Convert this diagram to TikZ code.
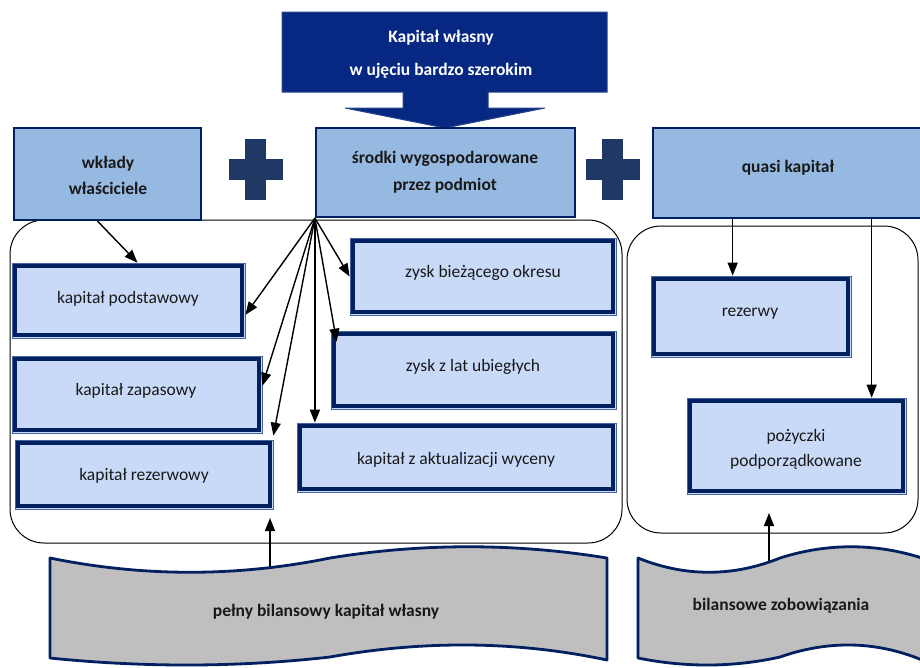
\documentclass[tikz,border=0pt]{standalone}
\usepackage{fontspec}
\setmainfont{Carlito}
\usetikzlibrary{arrows.meta,fit,calc}
\definecolor{navy}{RGB}{0,32,96}
\definecolor{topnavy}{RGB}{6,40,130}
\definecolor{topedge}{RGB}{40,70,140}
\definecolor{bigblue}{RGB}{150,185,226}
\definecolor{inblue}{RGB}{201,218,248}
\definecolor{framec}{RGB}{70,100,160}
\definecolor{plusc}{RGB}{31,56,100}
\definecolor{bannerg}{RGB}{191,191,191}
\definecolor{txtc}{RGB}{25,25,25}
\begin{document}
\begin{tikzpicture}[x=1pt,y=-1pt,
  txt/.style={font=\fontsize{17.5}{25}\selectfont, text=txtc, align=center, inner sep=0pt},
  btxt/.style={font=\fontsize{17.5}{26}\selectfont\bfseries, text=txtc, align=center, inner sep=0pt},
  bigbox/.style={draw=navy, line width=2.2pt, fill=bigblue, inner sep=0pt},
  inbox/.style={draw=framec, line width=0.7pt, fill=inblue, inner sep=0pt},
  inframe/.style={draw=navy, line width=3.5pt},
  conn/.style={line width=1.4pt, -{Triangle[length=13pt,width=10pt]}},
  container/.style={draw=black, line width=1pt, rounded corners=34pt},
  banner/.style={draw=navy, line width=2.8pt, fill=bannerg, line join=round},
  plussign/.style={fill=plusc},
  topshape/.style={fill=topnavy, draw=topedge, line width=1pt},
  toptxt/.style={font=\fontsize{17.5}{26}\selectfont\bfseries, text=white, inner sep=0pt}
]
\clip (0,0) rectangle (920,667);
\fill[white] (0,0) rectangle (920,667);

% containers
\draw[container] (10,220) rectangle (622,543);
\draw[container] (627,226) rectangle (918,533);

% top arrow
\path[topshape] (282,12) -- (607,12) -- (607,92) -- (488,92) -- (488,108) -- (545,108)
  -- (445,128) -- (345,108) -- (403,108) -- (403,92) -- (282,92) -- cycle;
\node[toptxt] (title1) at (441,38) {Kapitał własny};
\node[toptxt] (title2) at (441,71) {w ujęciu bardzo szerokim};

% top boxes
\node[bigbox, fit={(14,128) (201,220)}] (wk) {};
\node[btxt] (wkl) at (108,175) {wkłady\\właściciele};
\node[bigbox, fit={(316,128) (575,217)}] (src) {};
\node[btxt, font=\fontsize{17.5}{27}\selectfont\bfseries] (srcl) at (445,172) {środki wygospodarowane\\przez podmiot};
\node[bigbox, fit={(653,128) (922,218)}] (qk) {};
\node[btxt] (qkl) at (788,168) {quasi kapitał};

% plus signs
\fill[plussign] (229,159) rectangle (283,180);
\fill[plussign] (245,139) rectangle (266,200);
\fill[plussign] (586,159) rectangle (640,180);
\fill[plussign] (602,139) rectangle (623,200);

% inner boxes
\node[inbox, fit={(12,263) (245,338)}] (pod) {};
\node[inbox, fit={(12,356) (262,433)}] (zap) {};
\node[inbox, fit={(15,440) (273,509)}] (rez) {};
\node[inbox, fit={(350,238) (616,315)}] (biez) {};
\node[inbox, fit={(331,331) (616,409)}] (lat) {};
\node[inbox, fit={(297,423) (616,492)}] (akt) {};
\node[inbox, fit={(651,276) (851,357)}] (rzw) {};
\node[inbox, fit={(687,398) (906,494)}] (poz) {};
\foreach \n in {pod,zap,rez,biez,lat,akt,rzw,poz}
  \draw[inframe] ([shift={(3.5,3.5)}]\n.north west) rectangle ([shift={(-3.5,-3.5)}]\n.south east);
\node[txt] (podl) at (128,299) {kapitał podstawowy};
\node[txt] (zapl) at (136,391) {kapitał zapasowy};
\node[txt] (rezl) at (144,476) {kapitał rezerwowy};
\node[txt] (biezl) at (483,273) {zysk bieżącego okresu};
\node[txt] (latl) at (473,367) {zysk z lat ubiegłych};
\node[txt] (aktl) at (456,460) {kapitał z aktualizacji wyceny};
\node[txt] (rzwl) at (750,314) {rezerwy};
\node[txt] (pozl) at (796,449) {pożyczki\\podporządkowane};

% connectors
\draw[conn] ($(wk.south)+(-10,0)$) -- ($(pod.north)+(9,0)$);
\draw[conn] (src.south west) -- (pod.-7);
\draw[conn] (src.south west) -- (zap.4);
\draw[conn] (src.south west) -- ($(rez.north east)+(0,-4)$);
\draw[conn] (src.south west) -- (src.south west |- akt.north);
\draw[conn] (src.south west) -- ($(lat.north west)+(6,11)$);
\draw[conn] (src.south west) -- (biez.west);

\coordinate (q1) at ($(rzw.north west)+(82,0)$);
\coordinate (q2) at ($(poz.north west)+(185,0)$);
\draw[conn] (qk.south -| q1) -- (q1);
\draw[conn] (qk.south -| q2) -- (q2);

\coordinate (b1top) at (270,573);
\coordinate (b1tip) at (270,518);
\coordinate (b2top) at (769,568);
\coordinate (b2tip) at (769,513);
\draw[conn] (b1top) -- (b1tip);
\draw[conn] (b2top) -- (b2tip);

% banners
\path[banner] (50,558) .. controls (143,577) and (237,577) .. (330,558)
  .. controls (422,543) and (515,543) .. (607,558) -- (607,660)
  .. controls (515,640.5) and (422,640.5) .. (330,657)
  .. controls (237,667.5) and (143,667.5) .. (50,658) -- cycle;
\path[banner] (638,558) .. controls (685,577) and (733,577) .. (780,558)
  .. controls (827,543) and (875,543) .. (922,558) -- (922,660)
  .. controls (875,640.5) and (827,640.5) .. (780,657)
  .. controls (733,667.5) and (685,667.5) .. (638,658) -- cycle;
\node[btxt] (b1) at (326,612) {pełny bilansowy kapitał własny};
\node[btxt] (b2) at (781,606) {bilansowe zobowiązania};
\end{tikzpicture}
\end{document}
